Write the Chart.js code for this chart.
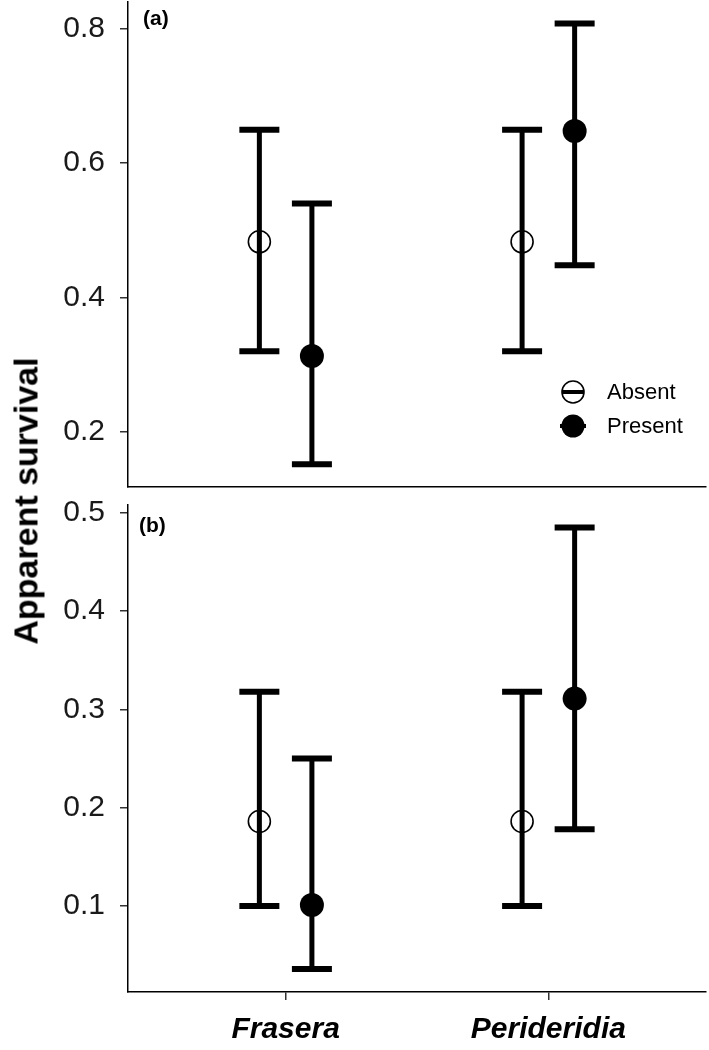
<!DOCTYPE html>
<html lang="en">
<head>
    <meta charset="UTF-8">
    <title>Apparent survival</title>
    <script src="https://cdn.jsdelivr.net/npm/chart.js@4.4.0/dist/chart.umd.min.js"></script>
    <style>
        body { margin: 0; background: #fff; overflow: hidden; }
        .figure { position: relative; width: 709px; height: 1050px; font-family: "Liberation Sans", Arial, sans-serif; }
        .panel { position: absolute; left: 0; width: 709px; }
        #panelA { top: 0; height: 495px; }
        #panelB { top: 495px; height: 555px; }
        .ytitle {
            position: absolute; left: 26px; top: 501px;
            transform: translate(-50%, -50%) rotate(-90deg);
            font-weight: bold; font-size: 34px; white-space: nowrap; color: #000;
        }
        .tag { position: absolute; font-weight: bold; font-size: 21px; color: #000; line-height: 1; }
        .legend { position: absolute; left: 559px; top: 375px; font-size: 22px; color: #000; }
        .legend .row { display: flex; align-items: center; height: 34px; }
        .legend svg { margin-right: 18px; }
    </style>
</head>
<body>
    <div class="figure">
        <div class="panel" id="panelA"><canvas id="chartA"></canvas></div>
        <div class="panel" id="panelB"><canvas id="chartB"></canvas></div>
        <div class="ytitle">Apparent survival</div>
        <div class="tag" style="left:143px; top:7px;">(a)</div>
        <div class="tag" style="left:139px; top:514px;">(b)</div>
        <div class="legend">
            <div class="row">
                <svg width="30" height="28" viewBox="0 0 30 28">
                    <line x1="3" y1="14" x2="25" y2="14" stroke="#000" stroke-width="4"/>
                    <circle cx="14" cy="14" r="11" fill="none" stroke="#000" stroke-width="1.6"/>
                </svg>
                <span>Absent</span>
            </div>
            <div class="row">
                <svg width="30" height="28" viewBox="0 0 30 28">
                    <line x1="1" y1="14" x2="27" y2="14" stroke="#000" stroke-width="4"/>
                    <circle cx="14" cy="14" r="11.5" fill="#000"/>
                </svg>
                <span>Present</span>
            </div>
        </div>
    </div>

    <script>
        // categories and groups
        const categories = ['Frasera', 'Perideridia'];
        const groups = ['Absent', 'Present'];

        // panel (a) estimates with lower / upper limits
        const aAbsentEst = [0.483, 0.483];
        const aAbsentLow = [0.320, 0.320];
        const aAbsentHigh = [0.650, 0.650];
        const aPresentEst = [0.313, 0.648];
        const aPresentLow = [0.152, 0.448];
        const aPresentHigh = [0.540, 0.808];

        // panel (b)
        const bAbsentEst = [0.186, 0.186];
        const bAbsentLow = [0.100, 0.100];
        const bAbsentHigh = [0.318, 0.318];
        const bPresentEst = [0.101, 0.311];
        const bPresentLow = [0.036, 0.178];
        const bPresentHigh = [0.250, 0.485];

        // tick labels
        const yTicksA = [0.2, 0.4, 0.6, 0.8];
        const yTicksB = [0.1, 0.2, 0.3, 0.4, 0.5];

        const dodge = 0.1;
        const tickColor = '#333';
        const fontFamily = '"Liberation Sans", Arial, sans-serif';

        function groupDatasets(est, low, high, offset, filled) {
            const xs = categories.map((c, i) => i + 1 + offset);
            const whisker = [];
            const caps = [];
            xs.forEach((x, i) => {
                whisker.push({ x: x, y: low[i] }, { x: x, y: high[i] }, { x: x, y: null });
                caps.push({ x: x, y: low[i] }, { x: x, y: high[i] });
            });
            return [
                {
                    type: 'scatter',
                    data: xs.map((x, i) => ({ x: x, y: est[i] })),
                    pointStyle: 'circle',
                    pointRadius: filled ? 12 : 11,
                    pointBorderWidth: filled ? 0 : 1.6,
                    pointBackgroundColor: filled ? '#000' : 'rgba(0,0,0,0)',
                    pointBorderColor: '#000',
                    order: 0
                },
                {
                    type: 'scatter',
                    data: caps,
                    pointStyle: 'line',
                    pointRadius: 20,
                    pointBorderWidth: 6,
                    pointBorderColor: '#000',
                    order: 1
                },
                {
                    type: 'line',
                    data: whisker,
                    borderColor: '#000',
                    borderWidth: 5,
                    pointRadius: 0,
                    spanGaps: false,
                    order: 2
                }
            ];
        }

        function makeChart(id, datasets, yMin, yMax, yTicks, showX, padTop, padBottom) {
            return new Chart(document.getElementById(id), {
                data: { datasets: datasets },
                options: {
                    responsive: true,
                    maintainAspectRatio: false,
                    animation: false,
                    layout: { autoPadding: false, padding: { top: padTop, right: 3, bottom: padBottom, left: 0 } },
                    plugins: { legend: { display: false }, tooltip: { enabled: false } },
                    scales: {
                        x: {
                            type: 'linear',
                            min: 0.4,
                            max: 2.6,
                            afterBuildTicks: s => { s.ticks = categories.map((c, i) => ({ value: i + 1 })); },
                            afterFit: s => {
                                s.height = showX ? 58 : 0;
                                s.paddingLeft = 0;
                                s.paddingRight = 0;
                            },
                            grid: { display: showX, drawOnChartArea: false, tickLength: 8, color: tickColor, lineWidth: 1.5 },
                            border: { display: true, color: '#000', width: 1.5 },
                            ticks: {
                                display: showX,
                                padding: 12,
                                color: '#000',
                                font: { family: fontFamily, size: 30, weight: 'bold', style: 'italic' },
                                callback: v => categories[Math.round(v) - 1]
                            }
                        },
                        y: {
                            min: yMin,
                            max: yMax,
                            afterBuildTicks: s => { s.ticks = yTicks.map(v => ({ value: v })); },
                            afterFit: s => {
                                s.width = 128;
                                s.paddingTop = 0;
                                s.paddingBottom = 0;
                            },
                            grid: { drawOnChartArea: false, tickLength: 8, color: tickColor, lineWidth: 1.5 },
                            border: { display: true, color: '#000', width: 1.5 },
                            ticks: {
                                padding: 15,
                                color: '#1a1a1a',
                                font: { family: fontFamily, size: 30 },
                                callback: v => v.toFixed(1)
                            }
                        }
                    }
                }
            });
        }

        const dataA = [].concat(
            groupDatasets(aAbsentEst, aAbsentLow, aAbsentHigh, -dodge, false),
            groupDatasets(aPresentEst, aPresentLow, aPresentHigh, dodge, true)
        );
        const dataB = [].concat(
            groupDatasets(bAbsentEst, bAbsentLow, bAbsentHigh, -dodge, false),
            groupDatasets(bPresentEst, bPresentLow, bPresentHigh, dodge, true)
        );

        makeChart('chartA', dataA, 0.118, 0.84, yTicksA, false, 2, 8);
        makeChart('chartB', dataB, 0.0125, 0.508, yTicksB, true, 10, 0);
    </script>
</body>
</html>
